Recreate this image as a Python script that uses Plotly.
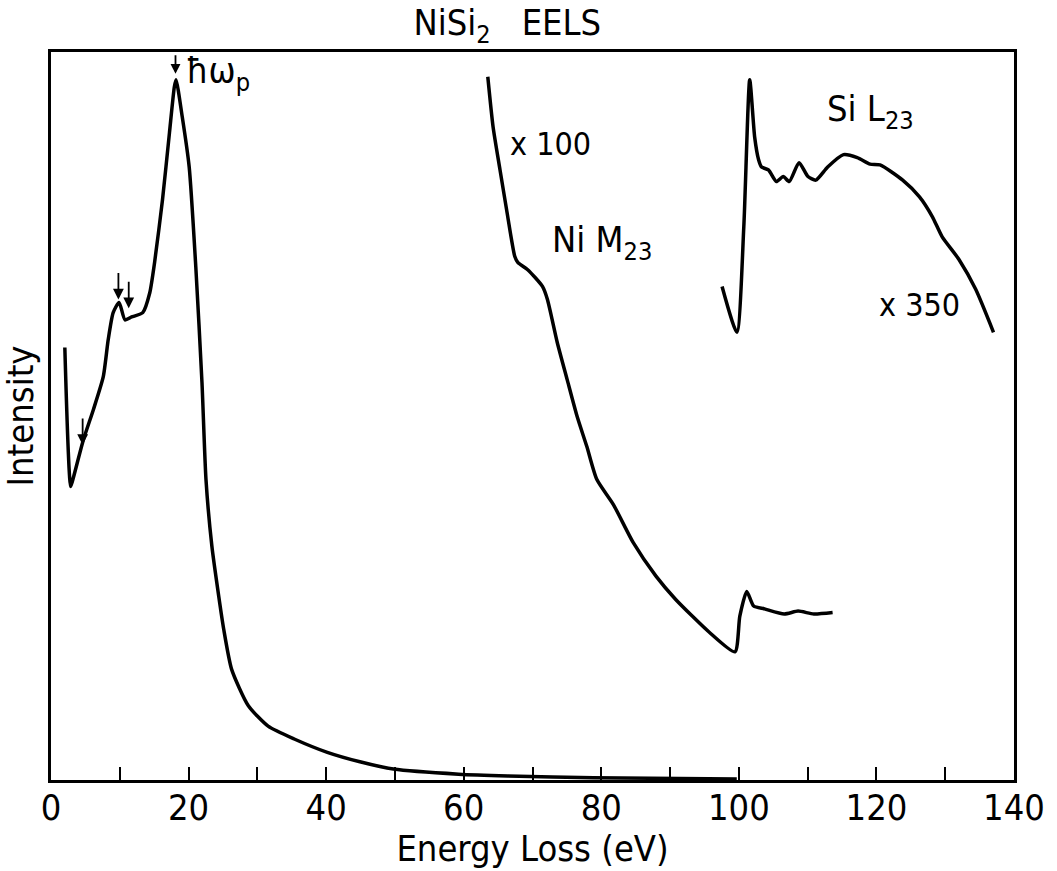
import plotly.graph_objects as go

# ---- data (energy loss in eV, intensity in arbitrary units, 0-100 frame) ----
main_ev = [2.01, 2.87, 3.30, 4.73, 6.17, 7.60, 8.32, 9.04, 9.90, 10.76, 11.72, 13.34, 14.35,
           15.06, 16.21, 17.22, 17.93, 18.18, 19.08, 20.09, 21.05, 21.95, 22.53, 23.39, 24.39,
           25.11, 26.26, 28.69, 31.56, 35.44, 40.17, 44.91, 49.78, 59.25, 66.43, 78.9, 99.7]
main_int = [59.4, 40.3, 41.7, 46.8, 50.9, 55.4, 60.5, 64.2, 65.6, 63.2, 63.6, 64.2, 66.9,
            71.1, 79.7, 88.9, 95.2, 96.2, 91.1, 84.2, 70.5, 54.6, 41.3, 32.1, 25.2,
            20.7, 15.2, 10.2, 7.4, 5.6, 3.8, 2.5, 1.5, 0.8, 0.55, 0.3, 0.15]

ni_ev = [63.5, 64.27, 65.28, 66.24, 67.43, 67.86, 69.30, 71.45, 72.17, 73.60, 75.04, 76.47,
         77.90, 79.34, 81.78, 84.65, 87.95, 90.82, 95.70, 99.43, 100.14, 101.15, 102.15,
         103.73, 106.60, 108.61, 110.90, 113.63]
ni_int = [96.6, 89.7, 83.8, 78.3, 71.9, 71.1, 70.1, 67.8, 66.0, 60.1, 55.0, 50.0,
          45.8, 41.3, 37.8, 32.6, 28.0, 24.8, 20.3, 17.6, 22.5, 25.9, 23.9,
          23.5, 22.8, 23.2, 22.8, 23.0]

si_ev = [97.56, 99.71, 100.72, 101.58, 102.30, 102.87, 103.30, 104.30, 105.45, 106.46, 107.32,
         108.75, 110.04, 111.19, 112.91, 115.21, 117.22, 119.08, 120.52, 123.82, 126.26,
         128.12, 129.56, 132.00, 134.43, 137.02]
si_int = [67.8, 61.5, 76.0, 96.2, 88.3, 85.2, 84.2, 83.8, 82.2, 82.9, 82.2,
          84.8, 82.9, 82.4, 84.2, 85.9, 85.5, 84.6, 84.5, 82.4, 80.1,
          77.4, 74.6, 71.5, 67.4, 61.5]

arrow_ev = [4.6, 9.8, 11.3]
arrow_int = [46.0, 66.0, 64.8]
plasmon_ev = 18.1
plasmon_int = 97.0

tick_vals = [0, 10, 20, 30, 40, 50, 60, 70, 80, 90, 100, 110, 120, 130, 140]
tick_text = ["0", "", "20", "", "40", "", "60", "", "80", "", "100", "", "120", "", "140"]

FONT = "Liberation Sans Narrow, DejaVu Sans Condensed, Liberation Sans"
FS = 36
line = dict(color="black", width=3.5, shape="spline", smoothing=0.6)

fig = go.Figure()
fig.add_trace(go.Scatter(x=main_ev, y=main_int, mode="lines", line=line, hoverinfo="skip"))
fig.add_trace(go.Scatter(x=ni_ev, y=ni_int, mode="lines", line=line, hoverinfo="skip"))
fig.add_trace(go.Scatter(x=si_ev, y=si_int, mode="lines", line=line, hoverinfo="skip"))

ann = []
for ex, iy in zip(arrow_ev, arrow_int):
    ann.append(dict(x=ex, y=iy, ax=0, ay=-28, xref="x", yref="y", axref="pixel", ayref="pixel",
                    showarrow=True, arrowhead=2, arrowsize=1.2, arrowwidth=1.8, arrowcolor="black", text=""))
ann.append(dict(x=plasmon_ev, y=plasmon_int, ax=0, ay=-20, xref="x", yref="y", showarrow=True,
                arrowhead=2, arrowsize=1.1, arrowwidth=1.8, arrowcolor="black", text=""))
ann.append(dict(x=19.3, y=97.0, xref="x", yref="y", xanchor="left", yanchor="middle", showarrow=False,
                text="ħω<sub>p</sub>", font=dict(family=FONT, size=FS, color="black")))
ann.append(dict(x=72.6, y=87.4, xref="x", yref="y", showarrow=False, text="x 100",
                font=dict(family=FONT, size=32, color="black")))
ann.append(dict(x=80.1, y=73.9, xref="x", yref="y", showarrow=False, text="Ni M<sub>23</sub>",
                font=dict(family=FONT, size=FS, color="black")))
ann.append(dict(x=119.1, y=91.8, xref="x", yref="y", showarrow=False, text="Si L<sub>23</sub>",
                font=dict(family=FONT, size=FS, color="black")))
ann.append(dict(x=126.3, y=65.3, xref="x", yref="y", showarrow=False, text="x 350",
                font=dict(family=FONT, size=32, color="black")))

fig.update_layout(
    width=1057, height=871,
    margin=dict(l=51, r=32, t=52, b=90),
    paper_bgcolor="white", plot_bgcolor="white",
    showlegend=False,
    font=dict(family=FONT, size=FS, color="black"),
    title=dict(text="NiSi<sub>2</sub>   EELS", x=0.48, xanchor="center", y=0.974, yanchor="middle",
               yref="container", font=dict(family=FONT, size=FS, color="black")),
    annotations=ann,
)
fig.update_xaxes(range=[0, 140], tickmode="array", tickvals=tick_vals, ticktext=tick_text,
                 ticks="inside", ticklen=13, tickwidth=2, tickcolor="black",
                 showline=True, linecolor="black", linewidth=2.5, mirror=True,
                 showgrid=False, zeroline=False, ticklabelstandoff=-6,
                 tickfont=dict(family=FONT, size=FS, color="black"),
                 title=dict(text="Energy Loss (eV)", standoff=6, font=dict(family=FONT, size=FS, color="black")))
fig.update_yaxes(range=[0, 100], showticklabels=False, ticks="",
                 showline=True, linecolor="black", linewidth=2.5, mirror=True,
                 showgrid=False, zeroline=False,
                 title=dict(text="Intensity", standoff=4, font=dict(family=FONT, size=FS, color="black")))

fig.write_html("out.html")
